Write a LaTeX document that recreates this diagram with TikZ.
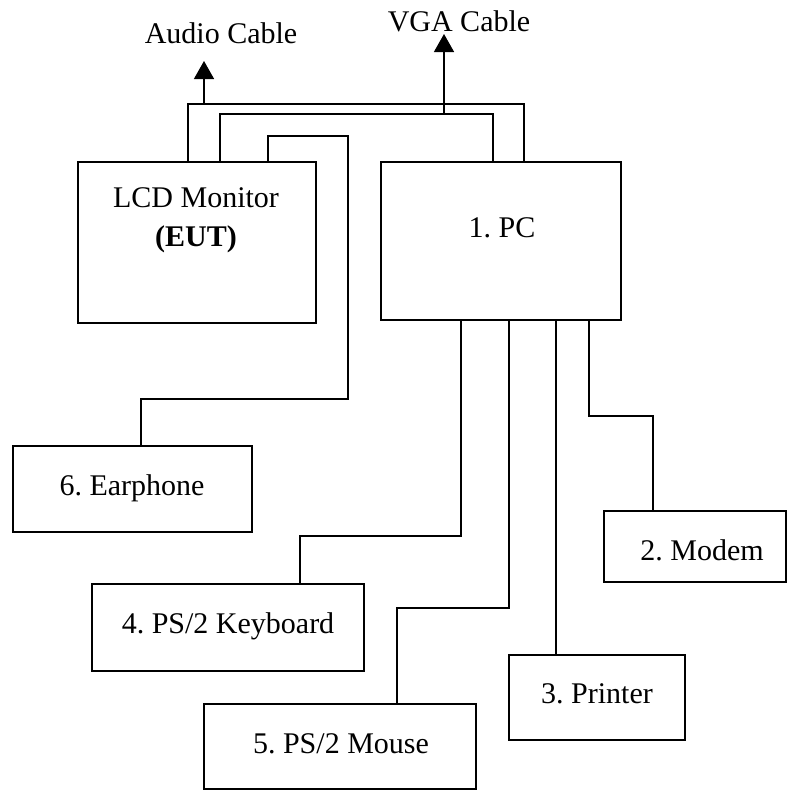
\documentclass[tikz,border=0pt]{standalone}
\usepackage{fontspec}
\setmainfont{Liberation Serif}
\usetikzlibrary{arrows.meta}
\frenchspacing
\begin{document}
\begin{tikzpicture}[x=1pt,y=-1pt,
  box/.style={draw,line width=1.4pt,inner sep=0pt,outer sep=0pt},
  cable/.style={line width=1.4pt},
  arrowcable/.style={line width=1.4pt,-{Triangle[width=20pt,length=18pt]}},
  lbl/.style={anchor=base,inner sep=0pt,font=\fontsize{30}{36}\selectfont}]
\useasboundingbox (0,0) rectangle (788,790);
% boxes
\node[box,minimum width=238pt,minimum height=161pt] (lcd) at (197,242.5) {};
\node[box,minimum width=240pt,minimum height=158pt] (pc) at (501,241) {};
\node[box,minimum width=239pt,minimum height=86pt] (ear) at (132.5,489) {};
\node[box,minimum width=182pt,minimum height=71pt] (modem) at (695,546.5) {};
\node[box,minimum width=272pt,minimum height=87pt] (kb) at (228,627.5) {};
\node[box,minimum width=272pt,minimum height=85pt] (mouse) at (340,746.5) {};
\node[box,minimum width=176pt,minimum height=85pt] (printer) at (597,697.5) {};
% labels
\node[lbl] (tlcd) at (196,207) {LCD Monitor};
\node[lbl] (teut) at (196,246) {\textbf{(EUT)}};
\node[lbl] (tpc) at (502,237) {1. PC};
\node[lbl] (tear) at (132,495) {6. Earphone};
\node[lbl] (tmodem) at (702,560) {2. Modem};
\node[lbl] (tkb) at (228,633) {4. PS/2 Keyboard};
\node[lbl] (tmouse) at (341,753) {5. PS/2 Mouse};
\node[lbl] (tprinter) at (597,703) {3. Printer};
\node[lbl] (taudio) at (221,43) {Audio Cable};
\node[lbl] (tvga) at (459,31) {VGA Cable};
% audio cable
\coordinate (a1) at (188,104);
\coordinate (a2) at (524,104);
\coordinate (aj) at (204,104);
\coordinate (atip) at (204,61);
\draw[cable] (a1 |- lcd.north) -- (a1) -- (a2) -- (a2 |- pc.north);
\draw[arrowcable] (aj) -- (atip);
% vga cable
\coordinate (v1) at (220,114);
\coordinate (v2) at (493,114);
\coordinate (vj) at (444,114);
\coordinate (vtip) at (444,34);
\draw[cable] (v1 |- lcd.north) -- (v1) -- (v2) -- (v2 |- pc.north);
\draw[arrowcable] (vj) -- (vtip);
% earphone cable
\coordinate (e1) at (268,136);
\coordinate (e2) at (348,136);
\coordinate (e3) at (348,399);
\coordinate (e4) at (141,399);
\draw[cable] (e1 |- lcd.north) -- (e1) -- (e2) -- (e3) -- (e4) -- (e4 |- ear.north);
% keyboard cable
\coordinate (k1) at (461,536);
\coordinate (k2) at (300,536);
\draw[cable] (k1 |- pc.south) -- (k1) -- (k2) -- (k2 |- kb.north);
% mouse cable
\coordinate (m1) at (509,608);
\coordinate (m2) at (397,608);
\draw[cable] (m1 |- pc.south) -- (m1) -- (m2) -- (m2 |- mouse.north);
% printer cable
\coordinate (p1) at (556,400);
\draw[cable] (p1 |- pc.south) -- (p1 |- printer.north);
% modem cable
\coordinate (d1) at (589,416);
\coordinate (d2) at (653,416);
\draw[cable] (d1 |- pc.south) -- (d1) -- (d2) -- (d2 |- modem.north);
\end{tikzpicture}
\end{document}
